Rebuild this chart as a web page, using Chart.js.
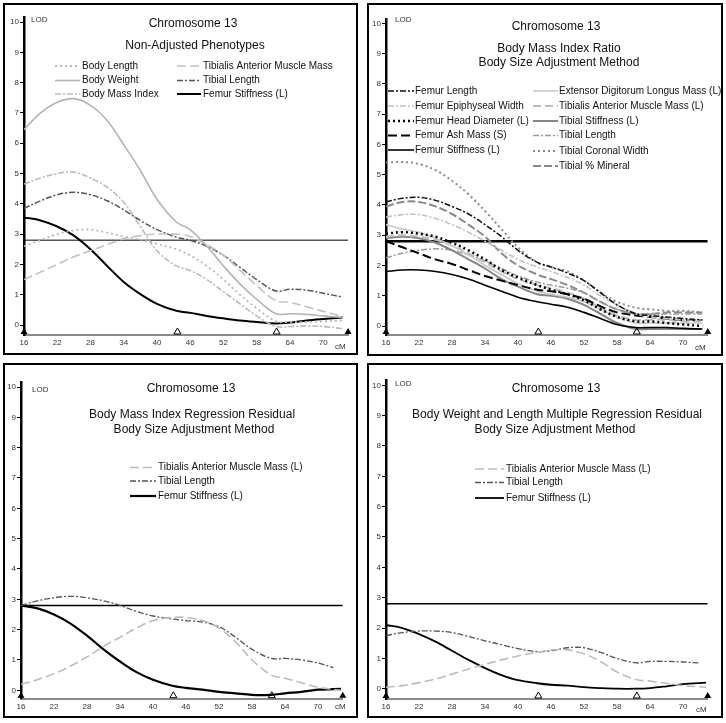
<!DOCTYPE html>
<html>
<head>
<meta charset="utf-8">
<script src="https://cdn.jsdelivr.net/npm/chart.js@4.4.1/dist/chart.umd.min.js"></script>
<style>
  body { margin: 0; background: #fff; width: 726px; height: 723px; position: relative; overflow: hidden; }
  .panel { position: absolute; width: 363px; height: 361px; }
  .frame { position: absolute; border: 2px solid #000; box-sizing: border-box; pointer-events: none; }
</style>
</head>
<body>
<div class="frame" style="left:3px;top:3px;width:355px;height:352px"></div>
<div class="frame" style="left:367px;top:3px;width:356px;height:353px"></div>
<div class="frame" style="left:3px;top:363px;width:355px;height:355px"></div>
<div class="frame" style="left:367px;top:363px;width:356px;height:355px"></div>
<script>
// Map positions (cM) and axis ticks
const cmA = [16, 19, 22, 25, 28, 31, 34, 37, 40, 43.5, 46, 49, 52, 55, 58, 61.5, 64, 67, 70, 73.5];
const cmB = [16, 19, 22, 25, 28, 31, 34, 37, 40, 43.5, 46, 49, 52, 55, 58, 61.5, 64, 67, 70, 74.2];
const cmBShort = [16, 19, 22, 25, 28, 31, 34, 37, 40, 43.5, 46, 49, 52, 55, 58, 61.5, 64, 67, 70, 72.8];
const xTicks = [16, 22, 28, 34, 40, 46, 52, 58, 64, 70];
const yTicks = [0, 1, 2, 3, 4, 5, 6, 7, 8, 9, 10];
const markerCM = [16, 43.7, 61.6, 74.5];
const thresholdLOD = 2.8;

// Panel 1: non-adjusted phenotypes
const p1BodyLength   = [2.6, 2.8, 3.0, 3.12, 3.15, 3.05, 2.92, 2.82, 2.68, 2.5, 2.3, 1.95, 1.5, 1.0, 0.55, 0.12, 0.1, 0.1, 0.12, 0.15];
const p1BodyWeight   = [6.45, 7.0, 7.35, 7.47, 7.25, 6.75, 5.95, 5.1, 4.15, 3.4, 3.15, 2.6, 1.95, 1.35, 0.85, 0.37, 0.37, 0.35, 0.3, 0.25];
const p1BodyMassIdx  = [4.65, 4.85, 5.0, 5.05, 4.85, 4.55, 4.05, 3.25, 2.45, 1.95, 1.8, 1.5, 1.1, 0.7, 0.3, -0.05, -0.05, -0.03, -0.05, -0.12];
const p1Tibialis     = [1.5, 1.75, 2.0, 2.25, 2.45, 2.65, 2.85, 2.95, 3.0, 3.0, 2.92, 2.65, 2.3, 1.8, 1.3, 0.8, 0.75, 0.6, 0.45, 0.28];
const p1TibialLength = [3.85, 4.1, 4.3, 4.38, 4.3, 4.1, 3.8, 3.45, 3.15, 2.9, 2.8, 2.6, 2.3, 1.9, 1.5, 1.12, 1.18, 1.15, 1.05, 0.92];
const p1FemurStiff   = [3.55, 3.45, 3.25, 2.95, 2.5, 1.95, 1.42, 1.02, 0.7, 0.47, 0.4, 0.3, 0.22, 0.15, 0.1, 0.05, 0.08, 0.15, 0.2, 0.25];

// Panel 2: body mass index ratio
const p2FemurLength   = [4.1, 4.22, 4.25, 4.15, 3.95, 3.7, 3.35, 2.95, 2.5, 2.1, 1.95, 1.75, 1.5, 1.1, 0.7, 0.4, 0.35, 0.3, 0.25, 0.2];
const p2FemurEpiph    = [3.6, 3.68, 3.68, 3.55, 3.35, 3.1, 2.8, 2.5, 2.2, 1.95, 1.8, 1.6, 1.35, 1.0, 0.7, 0.4, 0.3, 0.25, 0.2, 0.2];
const p2FemurHead     = [3.05, 3.1, 3.05, 2.95, 2.75, 2.5, 2.2, 1.85, 1.6, 1.35, 1.2, 1.05, 0.85, 0.55, 0.3, 0.15, 0.15, 0.1, 0.05, 0.0];
const p2FemurAsh      = [2.8, 2.6, 2.4, 2.2, 2.05, 1.85, 1.65, 1.5, 1.35, 1.2, 1.15, 1.05, 0.9, 0.65, 0.45, 0.35, 0.3, 0.25, 0.2, 0.2];
const p2FemurStiff    = [1.8, 1.85, 1.85, 1.8, 1.7, 1.55, 1.35, 1.15, 0.95, 0.8, 0.72, 0.62, 0.45, 0.25, 0.05, -0.05, -0.05, -0.05, -0.08, -0.1];
const p2Extensor      = [3.35, 3.2, 3.1, 2.9, 2.65, 2.35, 2.0, 1.7, 1.4, 1.15, 1.05, 0.95, 0.8, 0.55, 0.3, 0.1, 0.1, 0.1, 0.1, 0.1];
const p2Tibialis      = [2.95, 3.0, 2.95, 2.85, 2.65, 2.4, 2.1, 1.8, 1.55, 1.35, 1.25, 1.1, 0.9, 0.6, 0.35, 0.2, 0.2, 0.2, 0.15, 0.15];
const p2TibialStiff   = [2.9, 2.95, 2.9, 2.75, 2.5, 2.2, 1.9, 1.55, 1.3, 1.05, 1.0, 0.9, 0.7, 0.4, 0.1, -0.1, -0.1, -0.1, -0.1, -0.1];
const p2TibialLength  = [2.25, 2.4, 2.5, 2.55, 2.5, 2.35, 2.15, 1.9, 1.65, 1.45, 1.35, 1.25, 1.1, 0.8, 0.55, 0.4, 0.4, 0.4, 0.4, 0.4];
const p2TibialCoronal = [5.4, 5.42, 5.35, 5.15, 4.8, 4.35, 3.8, 3.2, 2.6, 2.1, 1.95, 1.8, 1.5, 1.1, 0.8, 0.6, 0.55, 0.5, 0.5, 0.45];
const p2TibialMineral = [3.95, 4.1, 4.1, 3.95, 3.7, 3.35, 2.95, 2.4, 2.0, 1.7, 1.55, 1.35, 1.1, 0.8, 0.55, 0.4, 0.4, 0.45, 0.45, 0.45];

// Panel 3: BMI regression residual
const p3Tibialis     = [0.2, 0.35, 0.55, 0.8, 1.1, 1.45, 1.75, 2.05, 2.3, 2.4, 2.4, 2.3, 2.05, 1.6, 1.0, 0.5, 0.4, 0.25, 0.1, 0.0];
const p3TibialLength = [2.8, 2.95, 3.05, 3.1, 3.05, 2.95, 2.8, 2.6, 2.45, 2.35, 2.3, 2.25, 2.1, 1.75, 1.35, 1.05, 1.05, 1.0, 0.9, 0.75];
const p3FemurStiff   = [2.8, 2.7, 2.5, 2.2, 1.8, 1.35, 0.95, 0.6, 0.35, 0.15, 0.08, 0.02, -0.05, -0.1, -0.15, -0.15, -0.1, -0.05, 0.02, 0.05];

// Panel 4: body weight and length multiple regression residual
const p4Tibialis     = [0.05, 0.1, 0.2, 0.32, 0.48, 0.65, 0.8, 0.95, 1.08, 1.2, 1.28, 1.28, 1.15, 0.9, 0.55, 0.3, 0.25, 0.18, 0.1, 0.05];
const p4TibialLength = [1.75, 1.85, 1.9, 1.9, 1.85, 1.72, 1.58, 1.45, 1.32, 1.22, 1.25, 1.35, 1.35, 1.2, 1.0, 0.85, 0.9, 0.9, 0.88, 0.85];
const p4FemurStiff   = [2.1, 2.0, 1.8, 1.55, 1.25, 0.95, 0.68, 0.45, 0.28, 0.18, 0.13, 0.1, 0.05, 0.02, 0.0, 0.0, 0.02, 0.08, 0.15, 0.2];

const FONT = '"Liberation Sans", Arial, sans-serif';
Chart.defaults.font.family = FONT;

// line styles
const DOT = [2, 3], DASHDOT = [6, 2, 2, 2], LONGDASH = [9, 4];

const panels = [
  {
    left: 0, top: 0,
    geo: { left: 24, y0: 325, yPer: 30.3, axisY: 335, xPer: 5.54 },
    titles: [['Chromosome 13', 193, 24], ['Non-Adjusted Phenotypes', 195, 46]],
    lod: [31, 20], cm: [335, 347], thrWidth: 1,
    cols: [{ x1: 55, x2: 80, tx: 82, rows: [66, 80.5, 94] }, { x1: 177, x2: 201, tx: 203, rows: [66, 80.5, 94] }],
    series: [
      { label: 'Body Length', x: cmA, y: p1BodyLength, color: '#b8b8b8', width: 1.8, dash: DOT, col: 0, row: 0 },
      { label: 'Body Weight', x: cmA, y: p1BodyWeight, color: '#b4b4b4', width: 1.6, dash: [], col: 0, row: 1 },
      { label: 'Body Mass Index', x: cmA, y: p1BodyMassIdx, color: '#bbbbbb', width: 1.6, dash: DASHDOT, col: 0, row: 2 },
      { label: 'Tibialis Anterior Muscle Mass', x: cmA, y: p1Tibialis, color: '#c2c2c2', width: 1.6, dash: LONGDASH, col: 1, row: 0 },
      { label: 'Tibial Length', x: cmA, y: p1TibialLength, color: '#555555', width: 1.5, dash: DASHDOT, col: 1, row: 1 },
      { label: 'Femur Stiffness (L)', x: cmA, y: p1FemurStiff, color: '#000000', width: 2, dash: [], col: 1, row: 2 }
    ]
  },
  {
    left: 363, top: 0,
    geo: { left: 23, y0: 326, yPer: 30.27, axisY: 335, xPer: 5.5 },
    titles: [['Chromosome 13', 193, 27], ['Body Mass Index Ratio', 196, 49], ['Body Size Adjustment Method', 196, 63]],
    lod: [32, 20], cm: [332, 348], thrWidth: 2.5,
    cols: [{ x1: 25, x2: 51, tx: 52, rows: [91, 106, 121, 135.5, 150] }, { x1: 170, x2: 195, tx: 196, rows: [91, 106, 121, 135.5, 151, 166] }],
    series: [
      { label: 'Femur Length', x: cmA, y: p2FemurLength, color: '#111111', width: 1.5, dash: DASHDOT, col: 0, row: 0 },
      { label: 'Femur Epiphyseal Width', x: cmA, y: p2FemurEpiph, color: '#c4c4c4', width: 1.6, dash: DASHDOT, col: 0, row: 1 },
      { label: 'Femur Head Diameter (L)', x: cmA, y: p2FemurHead, color: '#000000', width: 2.5, dash: [2, 3], col: 0, row: 2 },
      { label: 'Femur Ash Mass (S)', x: cmA, y: p2FemurAsh, color: '#000000', width: 2, dash: LONGDASH, col: 0, row: 3 },
      { label: 'Femur Stiffness (L)', x: cmA, y: p2FemurStiff, color: '#000000', width: 1.6, dash: [], col: 0, row: 4 },
      { label: 'Extensor Digitorum Longus Mass (L)', x: cmA, y: p2Extensor, color: '#c8c8c8', width: 1.6, dash: [], col: 1, row: 0 },
      { label: 'Tibialis Anterior Muscle Mass (L)', x: cmA, y: p2Tibialis, color: '#bdbdbd', width: 2, dash: [8, 4], col: 1, row: 1 },
      { label: 'Tibial Stiffness (L)', x: cmA, y: p2TibialStiff, color: '#858585', width: 2, dash: [], col: 1, row: 2 },
      { label: 'Tibial Length', x: cmA, y: p2TibialLength, color: '#9a9a9a', width: 1.5, dash: DASHDOT, col: 1, row: 3 },
      { label: 'Tibial Coronal Width', x: cmA, y: p2TibialCoronal, color: '#8a8a8a', width: 2, dash: [2, 3], col: 1, row: 4 },
      { label: 'Tibial % Mineral', x: cmA, y: p2TibialMineral, color: '#8a8a8a', width: 2, dash: [8, 3], col: 1, row: 5 }
    ]
  },
  {
    left: 0, top: 362,
    geo: { left: 21, y0: 328.3, yPer: 30.33, axisY: 336.7, xPer: 5.5 },
    titles: [['Chromosome 13', 191, 27], ['Body Mass Index Regression Residual', 192, 53], ['Body Size Adjustment Method', 194, 68]],
    lod: [32, 28], cm: [335, 345], thrWidth: 1.5,
    cols: [{ x1: 130, x2: 156, tx: 158, rows: [105.5, 119, 134] }],
    series: [
      { label: 'Tibialis Anterior Muscle Mass (L)', x: cmB, y: p3Tibialis, color: '#bdbdbd', width: 1.6, dash: LONGDASH, col: 0, row: 0 },
      { label: 'Tibial Length', x: cmBShort, y: p3TibialLength, color: '#555555', width: 1.3, dash: DASHDOT, col: 0, row: 1 },
      { label: 'Femur Stiffness (L)', x: cmB, y: p3FemurStiff, color: '#000000', width: 2.2, dash: [], col: 0, row: 2 }
    ]
  },
  {
    left: 363, top: 362,
    geo: { left: 23, y0: 326.7, yPer: 30.34, axisY: 337, xPer: 5.5 },
    titles: [['Chromosome 13', 193, 27], ['Body Weight and Length Multiple Regression Residual', 194, 53], ['Body Size Adjustment Method', 192, 68]],
    lod: [32, 22], cm: [333, 348], thrWidth: 1.5,
    cols: [{ x1: 112, x2: 141, tx: 143, rows: [107, 120.5, 136] }],
    series: [
      { label: 'Tibialis Anterior Muscle Mass (L)', x: cmB, y: p4Tibialis, color: '#bdbdbd', width: 1.6, dash: LONGDASH, col: 0, row: 0 },
      { label: 'Tibial Length', x: cmBShort, y: p4TibialLength, color: '#555555', width: 1.3, dash: DASHDOT, col: 0, row: 1 },
      { label: 'Femur Stiffness (L)', x: cmB, y: p4FemurStiff, color: '#000000', width: 1.8, dash: [], col: 0, row: 2 }
    ]
  }
];

// titles, legend, axis labels and marker triangles
function decor(panel) {
  return {
    id: 'decor',
    afterDraw(chart) {
      const ctx = chart.ctx;
      const xs = chart.scales.x;
      const area = chart.chartArea;
      ctx.save();
      ctx.fillStyle = '#111';
      ctx.textBaseline = 'middle';
      ctx.textAlign = 'center';
      ctx.font = '12px ' + FONT;
      panel.titles.forEach(t => ctx.fillText(t[0], t[1], t[2]));

      ctx.textAlign = 'left';
      ctx.font = '8px ' + FONT;
      ctx.fillStyle = '#333';
      ctx.fillText('LOD', panel.lod[0], panel.lod[1]);
      ctx.fillText('cM', panel.cm[0], panel.cm[1]);

      // legend
      ctx.font = '10px ' + FONT;
      panel.series.forEach(s => {
        const c = panel.cols[s.col];
        const y = c.rows[s.row];
        ctx.beginPath();
        ctx.setLineDash(s.dash);
        ctx.strokeStyle = s.color;
        ctx.lineWidth = s.width;
        ctx.moveTo(c.x1, y);
        ctx.lineTo(c.x2, y);
        ctx.stroke();
        ctx.setLineDash([]);
        ctx.fillStyle = '#111';
        ctx.fillText(s.label, c.tx, y);
      });

      // marker triangles on the x axis
      ctx.strokeStyle = '#000';
      ctx.fillStyle = '#000';
      ctx.lineWidth = 1;
      const base = area.bottom - 1;
      markerCM.forEach((v, i) => {
        const px = xs.getPixelForValue(v);
        ctx.beginPath();
        ctx.moveTo(px - 3.5, base);
        ctx.lineTo(px, base - 6);
        ctx.lineTo(px + 3.5, base);
        ctx.closePath();
        if (i === 0 || i === markerCM.length - 1) ctx.fill();
        else ctx.stroke();
      });
      ctx.restore();
    }
  };
}

function drawPanel(panel) {
  const wrap = document.createElement('div');
  wrap.className = 'panel';
  wrap.style.left = panel.left + 'px';
  wrap.style.top = panel.top + 'px';
  const canvas = document.createElement('canvas');
  canvas.width = 363;
  canvas.height = 361;
  wrap.appendChild(canvas);
  document.body.insertBefore(wrap, document.body.firstChild);

  const g = panel.geo;
  const yMax = 10.15;
  const yMin = -(g.axisY - g.y0) / g.yPer;
  const xMax = 74.5;

  const datasets = panel.series.map(s => ({
    label: s.label,
    data: s.x.map((x, i) => ({ x, y: s.y[i] })),
    borderColor: s.color,
    borderWidth: s.width,
    borderDash: s.dash,
    fill: false,
    tension: 0.35
  }));
  datasets.push({
    label: 'threshold',
    data: [{ x: 16, y: thresholdLOD }, { x: xMax, y: thresholdLOD }],
    borderColor: '#000',
    borderWidth: panel.thrWidth,
    tension: 0
  });

  new Chart(canvas, {
    type: 'line',
    data: { datasets },
    options: {
      responsive: false,
      animation: false,
      layout: {
        padding: {
          left: 0,
          top: g.y0 - yMax * g.yPer,
          right: 363 - g.left - (xMax - 16) * g.xPer,
          bottom: 361 - g.axisY - 16
        }
      },
      elements: { point: { radius: 0 } },
      plugins: { legend: { display: false }, tooltip: { enabled: false } },
      scales: {
        x: {
          type: 'linear', min: 16, max: xMax,
          afterFit(s) { s.height = 16; },
          afterBuildTicks(s) { s.ticks = xTicks.map(v => ({ value: v })); },
          grid: { display: false, drawTicks: false },
          border: { display: true, color: '#8a8a8a', width: 2 },
          ticks: { padding: 3, color: '#333', font: { size: 8 }, maxRotation: 0, autoSkip: false }
        },
        y: {
          type: 'linear', min: yMin, max: yMax,
          afterFit(s) { s.width = g.left; },
          afterBuildTicks(s) { s.ticks = yTicks.map(v => ({ value: v })); },
          grid: { drawOnChartArea: false, drawTicks: true, tickLength: 4, color: '#000', lineWidth: 1 },
          border: { display: true, color: '#000', width: 2.5 },
          ticks: { padding: 1, color: '#333', font: { size: 8 } }
        }
      }
    },
    plugins: [decor(panel)]
  });
}

panels.forEach(drawPanel);
</script>
</body>
</html>
